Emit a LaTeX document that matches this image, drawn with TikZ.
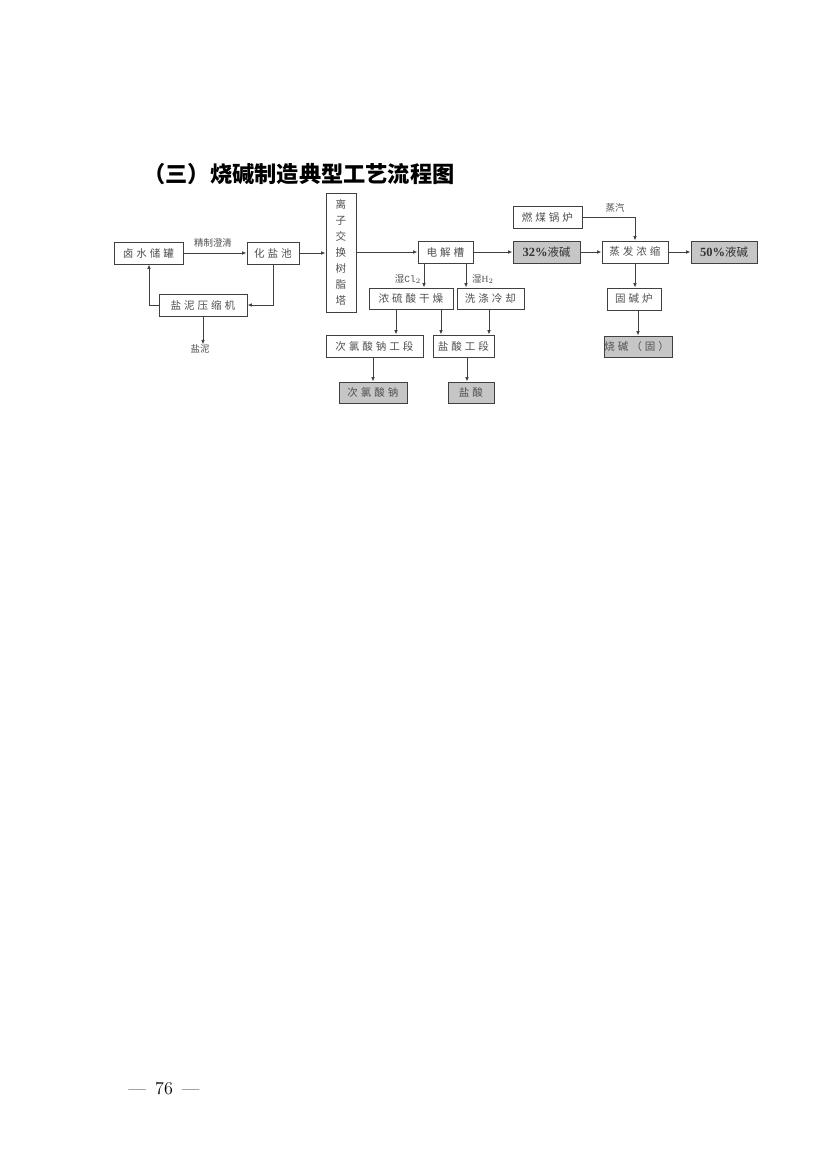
\documentclass[tikz,border=0pt]{standalone}
\usepackage{fontspec}
\usetikzlibrary{arrows.meta}
\newfontfamily\cjk[LetterSpace=28]{Noto Sans CJK SC}
\newfontfamily\cjkn{Noto Sans CJK SC}
\newfontfamily\tms{Liberation Serif}
\newfontfamily\mon{Liberation Mono}
\definecolor{ln}{HTML}{404040}
\definecolor{tx}{HTML}{505050}
\definecolor{gb}{HTML}{C6C6C6}
\def\u{0.72pt}
\begin{document}
\begin{tikzpicture}[x=0.72pt,y=-0.72pt,
  box/.style={draw=ln, line width=0.7pt, fill=white, inner sep=0pt, font=\cjk\fontsize{7.6}{8}\selectfont, text=tx},
  gbox/.style={box, fill=gb},
  arr/.style={draw=ln, line width=0.6pt, -{Latex[length=3.2pt,width=2.6pt]}},
  lbl/.style={font=\cjkn\fontsize{6.8}{7}\selectfont, text=tx, inner sep=0pt}]
\useasboundingbox[fill=white] (0,0) rectangle (826,1169);
% title
\node[font=\cjkn\bfseries\fontsize{16}{18}\selectfont, inner sep=0pt] (title) at (299,174) {（三）烧碱制造典型工艺流程图};
% boxes
\node[box, minimum width=69*\u, minimum height=22*\u] (luz) at (148.5,253) {卤水储罐};
\node[box, minimum width=52*\u, minimum height=22*\u] (hy) at (273,253) {化盐池};
\node[box, minimum width=88*\u, minimum height=22*\u] (yn) at (203,305) {盐泥压缩机};
\node[box, minimum width=30*\u, minimum height=119*\u, font=\cjkn\fontsize{7.6}{11.5}\selectfont, align=center] (lz) at (341,252.5) {离\\子\\交\\换\\树\\脂\\塔};
\node[box, minimum width=55*\u, minimum height=22*\u] (dj) at (445.5,252) {电解槽};
\node[box, minimum width=84*\u, minimum height=21*\u] (nl) at (411,298.5) {浓硫酸干燥};
\node[box, minimum width=67*\u, minimum height=21*\u] (xd) at (490.5,298.5) {洗涤冷却};
\node[box, minimum width=97*\u, minimum height=22*\u] (clgd) at (374.5,346) {次氯酸钠工段};
\node[box, minimum width=61*\u, minimum height=22*\u] (ysgd) at (463.5,346) {盐酸工段};
\node[gbox, minimum width=68*\u, minimum height=21*\u] (cl) at (373,392.5) {次氯酸钠};
\node[gbox, minimum width=46*\u, minimum height=21*\u] (ys) at (471,392.5) {盐酸};
\node[box, minimum width=69*\u, minimum height=22*\u] (rm) at (547.5,217) {燃煤锅炉};
\node[gbox, minimum width=67*\u, minimum height=22*\u, text=black!80] (j32) at (546.5,252) {{\tms\bfseries\fontsize{9}{9}\selectfont 32\%}{\cjkn\fontsize{8.2}{9}\selectfont 液碱}};
\node[box, minimum width=66*\u, minimum height=22*\u] (zf) at (635,252) {蒸发浓缩};
\node[gbox, minimum width=66*\u, minimum height=22*\u, text=black!80] (j50) at (724,252) {{\tms\bfseries\fontsize{9}{9}\selectfont 50\%}{\cjkn\fontsize{8.2}{9}\selectfont 液碱}};
\node[box, minimum width=54*\u, minimum height=22*\u] (gj) at (634,299) {固碱炉};
\node[gbox, minimum width=68*\u, minimum height=21*\u] (sj) at (638,346.5) {\hspace{-2pt}烧碱（固）};
% labels
\node[lbl] (jz) at (213,243) {精制澄清};
\node[lbl] (ynt) at (200,349) {盐泥};
\node[lbl] (scl) at (408,279) {湿{\mon Cl}$_{\scriptscriptstyle 2}$};
\node[lbl] (sh) at (483,279) {湿{\tms H}$_{\scriptscriptstyle 2}$};
\node[lbl] (zq) at (615,208) {蒸汽};
% x positions
\coordinate (x424) at (424,0);
\coordinate (x466) at (466,0);
\coordinate (x396) at (396,0);
\coordinate (x441) at (441,0);
\coordinate (x489) at (489,0);
\coordinate (x373) at (373,0);
\coordinate (x467) at (467,0);
\coordinate (x638) at (638,0);
\coordinate (x149) at (149,0);
\coordinate (x273) at (273,0);
\coordinate (x203) at (203,0);
% connectors
\draw[arr] (luz) -- (hy);
\draw[arr] (x273 |- hy.south) |- (yn.east);
\draw[arr] (yn.west) -| (x149 |- luz.south);
\draw[arr] (x203 |- yn.south) -- (x203 |- ynt.north);
\draw[arr] (hy) -- (hy -| lz.west);
\draw[arr] (dj -| lz.east) -- (dj);
\draw[arr] (dj) -- (j32);
\draw[arr] (x424 |- dj.south) -- (x424 |- nl.north);
\draw[arr] (x466 |- dj.south) -- (x466 |- xd.north);
\draw[arr] (x396 |- nl.south) -- (x396 |- clgd.north);
\draw[arr] (x441 |- nl.south) -- (x441 |- ysgd.north);
\draw[arr] (x489 |- xd.south) -- (x489 |- ysgd.north);
\draw[arr] (x373 |- clgd.south) -- (x373 |- cl.north);
\draw[arr] (x467 |- ysgd.south) -- (x467 |- ys.north);
\draw[arr] (rm.east) -| (zf.north);
\draw[arr] (j32) -- (zf);
\draw[arr] (zf) -- (j50);
\draw[arr] (zf.south) -- (zf.south |- gj.north);
\draw[arr] (x638 |- gj.south) -- (x638 |- sj.north);
% page number
\node[font=\fontsize{13}{14}\selectfont, inner sep=0pt] (pg) at (164,1089) {---\hspace{0.5em}76\hspace{0.5em}---};
\end{tikzpicture}
\end{document}
